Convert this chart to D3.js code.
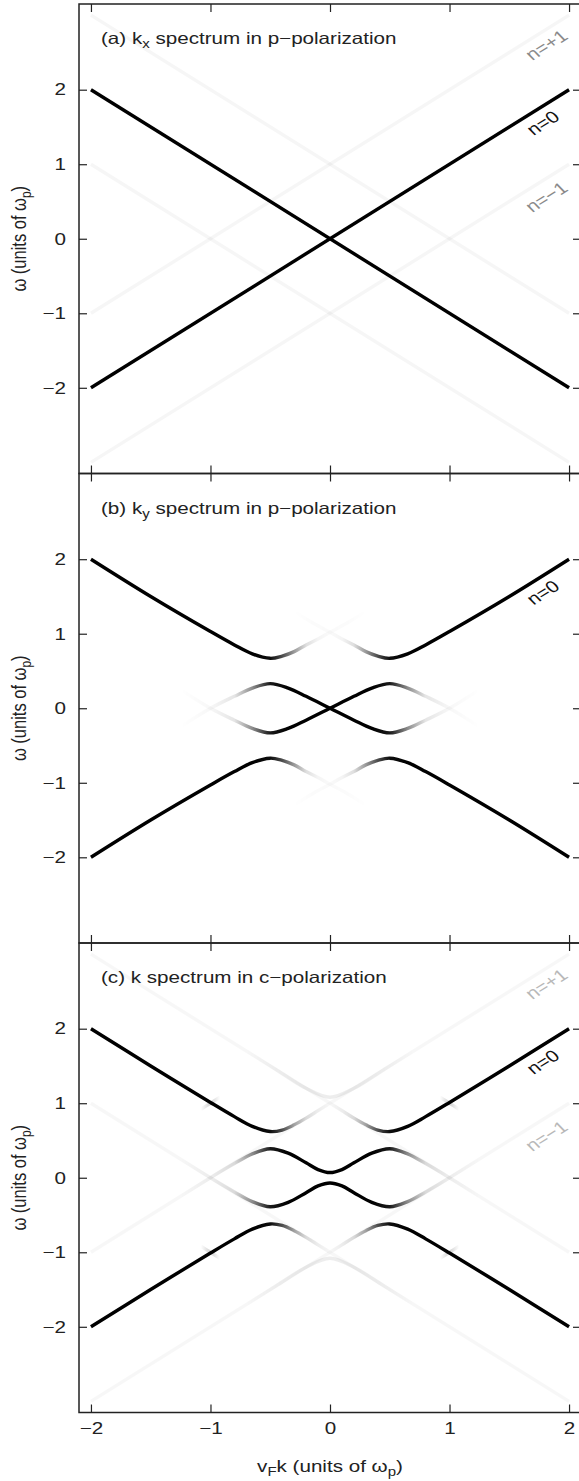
<!DOCTYPE html>
<html lang="en">
<head>
<meta charset="utf-8">
<title>spectrum panels</title>
<script src="https://d3js.org/d3.v7.min.js"></script>
<style>
body { margin: 0; background: #ffffff; }
text { font-family: "Liberation Sans", Arial, Helvetica, sans-serif; fill: #222; }
</style>
</head>
<body>
<div id="container"></div>
<script>
// axis data
var kDomain = [-2.1, 2.1];
var wDomain = [-3.15, 3.15];
var kTicks = [-2, -1, 0, 1, 2];
var wTicks = [-2, -1, 0, 1, 2];

// panel titles: [before sub, sub, after sub]
var titleA = ["(a) k", "x", " spectrum in p\u2212polarization"];
var titleB = ["(b) k", "y", " spectrum in p\u2212polarization"];
var titleC = ["(c) k spectrum in c\u2212polarization", "", ""];

// n labels: [text, k, w, colour]
var labelsA = [["n=+1", 1.81, 2.60, "#8a8a8a"], ["n=0", 1.78, 1.555, "#111"], ["n=\u22121", 1.81, 0.56, "#8a8a8a"]];
var labelsB = [["n=0", 1.78, 1.555, "#111"]];
var labelsC = [["n=+1", 1.81, 2.60, "#b8b8b8"], ["n=0", 1.78, 1.555, "#111"], ["n=\u22121", 1.81, 0.56, "#b8b8b8"]];

// traces: points [k, w, intensity]
var tracesA = [
  [[-2, -2, 1], [2, 2, 1]],
  [[-2, 2, 1], [2, -2, 1]],
  [[-2, -1, .035], [2, 3, .035]],
  [[-2, -3, .035], [2, 1, .035]],
  [[-2, 3, .035], [2, -1, .035]],
  [[-2, 1, .035], [2, -3, .035]]
];

var tracesB = [
  [[-2, 2, 1], [-1.5, 1.5, 1], [-1, 1.03, 1], [-0.8, 0.85, 1], [-0.65, 0.73, 1], [-0.5, 0.67, .95], [-0.4, 0.7, .7], [-0.3, 0.76, .4], [-0.2, 0.85, .13], [-0.1, 0.93, .04], [0, 1.02, .02], [0.15, 1.15, .015], [0.3, 1.3, 0]],
  [[-0.3, 1.3, 0], [-0.15, 1.15, .015], [0, 1.02, .02], [0.1, 0.93, .04], [0.2, 0.85, .13], [0.3, 0.76, .4], [0.4, 0.7, .7], [0.5, 0.67, .95], [0.65, 0.73, 1], [0.8, 0.85, 1], [1, 1.03, 1], [1.5, 1.5, 1], [2, 2, 1]],
  [[-2, -2, 1], [-1.5, -1.5, 1], [-1, -1.03, 1], [-0.8, -0.85, 1], [-0.65, -0.73, 1], [-0.5, -0.67, .95], [-0.4, -0.7, .7], [-0.3, -0.76, .4], [-0.2, -0.85, .13], [-0.1, -0.93, .04], [0, -1.02, .02], [0.15, -1.15, .015], [0.3, -1.3, 0]],
  [[-0.3, -1.3, 0], [-0.15, -1.15, .015], [0, -1.02, .02], [0.1, -0.93, .04], [0.2, -0.85, .13], [0.3, -0.76, .4], [0.4, -0.7, .7], [0.5, -0.67, .95], [0.65, -0.73, 1], [0.8, -0.85, 1], [1, -1.03, 1], [1.5, -1.5, 1], [2, -2, 1]],
  [[-1.25, -0.25, 0], [-1, 0, .03], [-0.8, 0.16, .1], [-0.65, 0.27, .45], [-0.5, 0.33, .9], [-0.35, 0.27, 1], [-0.2, 0.16, 1], [0, 0, 1], [0.2, -0.16, 1], [0.35, -0.27, 1], [0.5, -0.33, .9], [0.65, -0.27, .45], [0.8, -0.16, .1], [1, 0, .03], [1.25, 0.25, 0]],
  [[-1.25, 0.25, 0], [-1, 0, .03], [-0.8, -0.16, .1], [-0.65, -0.27, .45], [-0.5, -0.33, .9], [-0.35, -0.27, 1], [-0.2, -0.16, 1], [0, 0, 1], [0.2, 0.16, 1], [0.35, 0.27, 1], [0.5, 0.33, .9], [0.65, 0.27, .45], [0.8, 0.16, .1], [1, 0, .03], [1.25, -0.25, 0]]
];

var tracesC = [
  [[-2, -1, .03], [2, 3, .03]],
  [[-2, -3, .03], [2, 1, .03]],
  [[-2, 3, .03], [2, -1, .03]],
  [[-2, 1, .03], [2, -3, .03]],
  [[-2, 2, 1], [-1.5, 1.5, 1], [-1, 1.01, 1], [-0.8, 0.82, 1], [-0.65, 0.69, 1], [-0.5, 0.62, .95], [-0.4, 0.64, .7], [-0.3, 0.71, .35], [-0.2, 0.8, .12], [-0.1, 0.9, .04], [0, 1, 0]],
  [[0, 1, 0], [0.1, 0.9, .04], [0.2, 0.8, .12], [0.3, 0.71, .35], [0.4, 0.64, .7], [0.5, 0.62, .95], [0.65, 0.69, 1], [0.8, 0.82, 1], [1, 1.01, 1], [1.5, 1.5, 1], [2, 2, 1]],
  [[-2, -2, 1], [-1.5, -1.5, 1], [-1, -1.01, 1], [-0.8, -0.82, 1], [-0.65, -0.69, 1], [-0.5, -0.62, .95], [-0.4, -0.64, .7], [-0.3, -0.71, .35], [-0.2, -0.8, .12], [-0.1, -0.9, .04], [0, -1, 0]],
  [[0, -1, 0], [0.1, -0.9, .04], [0.2, -0.8, .12], [0.3, -0.71, .35], [0.4, -0.64, .7], [0.5, -0.62, .95], [0.65, -0.69, 1], [0.8, -0.82, 1], [1, -1.01, 1], [1.5, -1.5, 1], [2, -2, 1]],
  [[-1.25, -0.25, 0], [-1, 0, .04], [-0.8, 0.19, .12], [-0.65, 0.32, .45], [-0.5, 0.39, .9], [-0.35, 0.33, 1], [-0.2, 0.2, 1], [-0.1, 0.11, 1], [0, 0.07, 1], [0.1, 0.11, 1], [0.2, 0.2, 1], [0.35, 0.33, 1], [0.5, 0.39, .9], [0.65, 0.32, .45], [0.8, 0.19, .12], [1, 0, .04], [1.25, -0.25, 0]],
  [[-1.25, 0.25, 0], [-1, 0, .04], [-0.8, -0.19, .12], [-0.65, -0.32, .45], [-0.5, -0.39, .9], [-0.35, -0.33, 1], [-0.2, -0.2, 1], [-0.1, -0.11, 1], [0, -0.07, 1], [0.1, -0.11, 1], [0.2, -0.2, 1], [0.35, -0.33, 1], [0.5, -0.39, .9], [0.65, -0.32, .45], [0.8, -0.19, .12], [1, 0, .04], [1.25, 0.25, 0]],
  [[-0.7, 1.7, 0], [-0.45, 1.45, .04], [-0.2, 1.2, .07], [0, 1.08, .07], [0.2, 1.2, .07], [0.45, 1.45, .04], [0.7, 1.7, 0]],
  [[-0.7, -1.7, 0], [-0.45, -1.45, .04], [-0.2, -1.2, .07], [0, -1.08, .07], [0.2, -1.2, .07], [0.45, -1.45, .04], [0.7, -1.7, 0]],
  [[-1.08, 0.92, 0], [-1, 1, .18], [-0.92, 1.08, 0]],
  [[0.92, 1.08, 0], [1, 1, .18], [1.08, 0.92, 0]],
  [[-1.08, -0.92, 0], [-1, -1, .18], [-0.92, -1.08, 0]],
  [[0.92, -1.08, 0], [1, -1, .18], [1.08, -0.92, 0]]
];

var panels = [
  {traces: tracesA, title: titleA, labels: labelsA},
  {traces: tracesB, title: titleB, labels: labelsB},
  {traces: tracesC, title: titleC, labels: labelsC}
];

var w = 579, h = 1481;
var left = 79, right = 581, panelH = 469.5;
var tops = [4, 473.5, 943];
var sx = 1.25;          // glyphs in the figure are drawn wide
var fs = 16.5, subFs = 12;
var labelAngle = -37.9;

var svg = d3.select("#container").append("svg")
    .attr("width", w).attr("height", h)
    .style("background-color", "#ffffff");
var defs = svg.append("defs");
defs.append("filter").attr("id", "soft")
    .attr("x", "-5%").attr("y", "-5%").attr("width", "110%").attr("height", "110%")
  .append("feGaussianBlur").attr("stdDeviation", 0.6);

var x = d3.scaleLinear().domain(kDomain).range([left, right]);

function subText(sel, parts) {
  sel.append("tspan").text(parts[0]);
  if (parts[1]) {
    sel.append("tspan").attr("dy", 4).style("font-size", subFs + "px").text(parts[1]);
    sel.append("tspan").attr("dy", -4).text(parts[2]);
  }
}

function wideText(tx, ty, extra) {
  return svg.append("text")
    .attr("transform", "translate(" + tx + "," + ty + ") scale(" + sx + ",1)" + (extra || ""))
    .style("font-size", fs + "px");
}

panels.forEach(function(p, i) {
  var top = tops[i];
  var y = d3.scaleLinear().domain(wDomain).range([top + panelH, top]);
  var line = d3.line()
      .x(function(d) { return x(d[0]); })
      .y(function(d) { return y(d[1]); })
      .curve(d3.curveCatmullRom);

  defs.append("clipPath").attr("id", "clip" + i)
    .append("rect").attr("x", left).attr("y", top).attr("width", right - left).attr("height", panelH);

  var plot = svg.append("g").attr("clip-path", "url(#clip" + i + ")")
    .append("g").attr("filter", "url(#soft)");

  p.traces.forEach(function(t, j) {
    var gid = "grad" + i + "_" + j;
    var x1 = x(t[0][0]), x2 = x(t[t.length - 1][0]);
    var grad = defs.append("linearGradient").attr("id", gid)
        .attr("gradientUnits", "userSpaceOnUse")
        .attr("x1", x1).attr("x2", x2).attr("y1", 0).attr("y2", 0);
    grad.selectAll("stop").data(t).enter().append("stop")
        .attr("offset", function(d) { return (x(d[0]) - x1) / (x2 - x1); })
        .attr("stop-color", "#000")
        .attr("stop-opacity", function(d) { return d[2]; });
    plot.append("path").datum(t)
        .attr("d", line)
        .attr("fill", "none")
        .attr("stroke", "url(#" + gid + ")")
        .attr("stroke-width", 3.4);
  });

  // frame
  svg.append("rect").attr("x", left).attr("y", top).attr("width", right - left).attr("height", panelH)
      .attr("fill", "none").attr("stroke", "#222").attr("stroke-width", 1.5);

  var axL = svg.append("g").attr("transform", "translate(" + left + ",0)")
      .call(d3.axisLeft(y).tickValues(wTicks).tickSize(-8).tickPadding(13 / sx).tickFormat(d3.format("d")));
  var axR = svg.append("g").attr("transform", "translate(" + right + ",0)")
      .call(d3.axisRight(y).tickValues(wTicks).tickSize(-8).tickFormat(""));
  var axT = svg.append("g").attr("transform", "translate(0," + top + ")")
      .call(d3.axisTop(x).tickValues(kTicks).tickSize(-8).tickFormat(""));
  var axB = svg.append("g").attr("transform", "translate(0," + (top + panelH) + ")")
      .call(d3.axisBottom(x).tickValues(kTicks).tickSize(-8).tickPadding(10)
        .tickFormat(i === panels.length - 1 ? d3.format("d") : ""));
  [axL, axR, axT, axB].forEach(function(a) {
    a.select(".domain").remove();
    a.selectAll(".tick line").attr("stroke", "#222").attr("stroke-width", 1.2);
    a.selectAll(".tick text").style("font-size", fs + "px").attr("fill", "#222")
      .attr("transform", "scale(" + sx + ",1)")
      .style("font-family", "'Liberation Sans', Arial, sans-serif");
  });

  // panel title
  var tt = wideText(101, top + 40);
  subText(tt, p.title);

  // y label
  var yl = wideText(26, top + panelH / 2, " rotate(-90)").attr("text-anchor", "middle");
  subText(yl, ["\u03c9 (units of \u03c9", "p", ")"]);

  // n labels
  p.labels.forEach(function(d) {
    wideText(x(d[1]), y(d[2]), " rotate(" + labelAngle + ")")
      .attr("text-anchor", "middle").attr("dy", "0.35em")
      .style("fill", d[3]).text(d[0]);
  });
});

// x label
var xl = wideText(330, 1472).attr("text-anchor", "middle");
xl.append("tspan").text("v");
xl.append("tspan").attr("dy", 4).style("font-size", subFs + "px").text("F");
xl.append("tspan").attr("dy", -4).text("k (units of \u03c9");
xl.append("tspan").attr("dy", 4).style("font-size", subFs + "px").text("p");
xl.append("tspan").attr("dy", -4).text(")");
</script>
</body>
</html>
